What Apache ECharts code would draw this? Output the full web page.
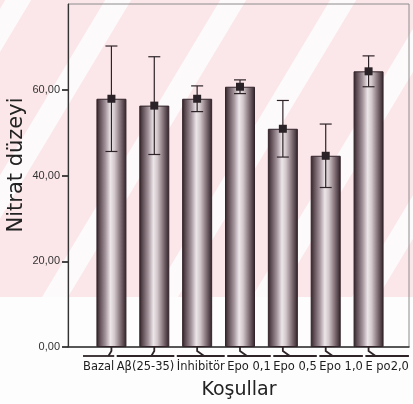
<!DOCTYPE html>
<html>
<head>
<meta charset="utf-8">
<script src="https://cdn.jsdelivr.net/npm/echarts/dist/echarts.min.js"></script>
<style>
  html, body { margin: 0; padding: 0; background: #fdfdfd; }
  #chart { width: 413px; height: 404px; }
</style>
</head>
<body>
<div id="chart"></div>
<script>
// Nitrat düzeyi by condition: mean with error bars
const categories = ['Bazal', 'Aβ(25-35)', 'İnhibitör', 'Epo 0,1', 'Epo 0,5', 'Epo 1,0', 'E po2,0'];
const means = [57.9, 56.3, 57.9, 60.7, 50.9, 44.6, 64.3];
const errors = [12.3, 11.4, 3.0, 1.6, 6.6, 7.4, 3.6];
const yTicks = [0, 20, 40, 60];

const yTitle = 'Nitrat düzeyi';
const xTitle = 'Koşullar';

const LABEL_FONT = '11.5px "DejaVu Sans"';
const INK = '#2e2428';

// Category labels are set side by side from the left, each with a leader to its bar
const ctx = document.createElement('canvas').getContext('2d');
ctx.font = LABEL_FONT;
const labelWidth = categories.map(c => ctx.measureText(c).width);
const labelLeft = [];
let cursor = 83;
labelWidth.forEach(w => { labelLeft.push(cursor); cursor += w + 2.5; });

// Faint diagonal banding in the page background
const bandBase = [-160, -60, 55, 165, 265, 365];
const bandTop = 297;
const stripes = bandBase.map(x0 => ({
  type: 'polygon',
  silent: true,
  z: -10,
  shape: { points: [[x0 - 13, bandTop], [x0 + 13, bandTop], [x0 + 13 + bandTop * 0.6, 0], [x0 - 13 + bandTop * 0.6, 0]] },
  style: { fill: '#fdfafb' }
}));

const fmt = v => v.toFixed(2).replace('.', ',');

const chart = echarts.init(document.getElementById('chart'), null, { renderer: 'canvas' });

const barGradient = new echarts.graphic.LinearGradient(0, 0, 1, 0, [
  { offset: 0, color: '#2c1f25' },
  { offset: 0.1, color: '#5b4950' },
  { offset: 0.3, color: '#a3939a' },
  { offset: 0.47, color: '#ece6e9' },
  { offset: 0.6, color: '#d3c8cc' },
  { offset: 0.82, color: '#7b6970' },
  { offset: 1, color: '#2e2026' }
]);

chart.setOption({
  backgroundColor: '#fdfdfd',
  animation: false,
  graphic: [
    { type: 'rect', silent: true, z: -20, shape: { x: 0, y: 0, width: 413, height: bandTop }, style: { fill: '#fbe6e9' } },
    ...stripes,
    {
      type: 'text', silent: true, x: 17, y: 165, rotation: Math.PI / 2,
      style: { text: yTitle, font: '21px "DejaVu Sans"', fill: '#222', align: 'center', verticalAlign: 'middle' }
    },
    {
      type: 'text', silent: true, x: 239, y: 390,
      style: { text: xTitle, font: '19px "DejaVu Sans"', fill: '#222', align: 'center', verticalAlign: 'middle' }
    }
  ],
  grid: [
    { left: 68, right: 4, top: 4, bottom: 57, show: true, borderColor: '#8c8c8c', borderWidth: 1, backgroundColor: 'transparent', outerBoundsMode: 'none' },
    { left: 90, right: 23, top: 4, bottom: 57, outerBoundsMode: 'none' }
  ],
  xAxis: [
    {
      gridIndex: 0, type: 'value', min: 0, max: 1,
      axisLine: { show: true, lineStyle: { color: '#333', width: 1.5 } },
      axisTick: { show: false }, axisLabel: { show: false }, splitLine: { show: false }
    },
    {
      gridIndex: 1, type: 'category', data: categories,
      axisLine: { show: false }, axisTick: { show: false }, axisLabel: { show: false }, splitLine: { show: false }
    }
  ],
  yAxis: [
    {
      gridIndex: 0, type: 'value', min: 0, max: 80, interval: 20,
      axisLine: { show: true, lineStyle: { color: '#333', width: 1.2 } },
      axisTick: { show: true, inside: false, length: 6, lineStyle: { color: '#333', width: 1.8 }, customValues: yTicks },
      axisLabel: {
        show: true, margin: 8, color: '#333', fontSize: 11, fontFamily: '"Liberation Sans"',
        formatter: fmt, customValues: yTicks
      },
      splitLine: { show: false }
    },
    {
      gridIndex: 1, type: 'value', min: 0, max: 80, show: false
    }
  ],
  series: [
    {
      type: 'bar', xAxisIndex: 1, yAxisIndex: 1,
      data: means, barWidth: 30,
      itemStyle: { color: barGradient, borderColor: '#33242b', borderWidth: 1 }
    },
    {
      type: 'custom', xAxisIndex: 1, yAxisIndex: 1, z: 5,
      data: means.map((m, i) => [i, m, errors[i]]),
      encode: { x: 0, y: 1 },
      renderItem: (params, api) => {
        const i = api.value(0), m = api.value(1), e = api.value(2);
        const hi = api.coord([i, m + e]);
        const lo = api.coord([i, m - e]);
        const mid = api.coord([i, m]);
        const cap = 6;
        const ls = { stroke: INK, lineWidth: 1.2 };
        return {
          type: 'group',
          children: [
            { type: 'line', shape: { x1: hi[0], y1: hi[1], x2: lo[0], y2: lo[1] }, style: ls },
            { type: 'line', shape: { x1: hi[0] - cap, y1: hi[1], x2: hi[0] + cap, y2: hi[1] }, style: ls },
            { type: 'line', shape: { x1: lo[0] - cap, y1: lo[1], x2: lo[0] + cap, y2: lo[1] }, style: ls },
            { type: 'rect', shape: { x: mid[0] - 4, y: mid[1] - 4, width: 8, height: 8 }, style: { fill: '#2a2226' } }
          ]
        };
      }
    },
    {
      type: 'custom', xAxisIndex: 1, yAxisIndex: 1, z: 5, clip: false,
      data: categories.map((c, i) => [i, 0]),
      encode: { x: 0, y: 1 },
      renderItem: (params, api) => {
        const i = api.value(0);
        const base = api.coord([i, 0]);
        const cx = base[0], y0 = base[1];
        const left = labelLeft[i], w = labelWidth[i];
        const centre = left + w / 2;
        const kink = centre > cx + 3 ? 7 : (centre < cx - 3 ? -3 : 0);
        const lineY = y0 + 9;
        const ls = { stroke: INK, lineWidth: 1.8, fill: null };
        return {
          type: 'group',
          children: [
            { type: 'polyline', shape: { points: [[cx, y0], [cx, y0 + 4], [cx + kink, lineY]] }, style: ls },
            { type: 'line', shape: { x1: left, y1: lineY, x2: left + w, y2: lineY }, style: ls },
            {
              type: 'text',
              style: { text: categories[i], x: left, y: lineY + 5, font: LABEL_FONT, fill: '#1e1e1e', align: 'left', verticalAlign: 'top' }
            }
          ]
        };
      }
    }
  ]
});
</script>
</body>
</html>
